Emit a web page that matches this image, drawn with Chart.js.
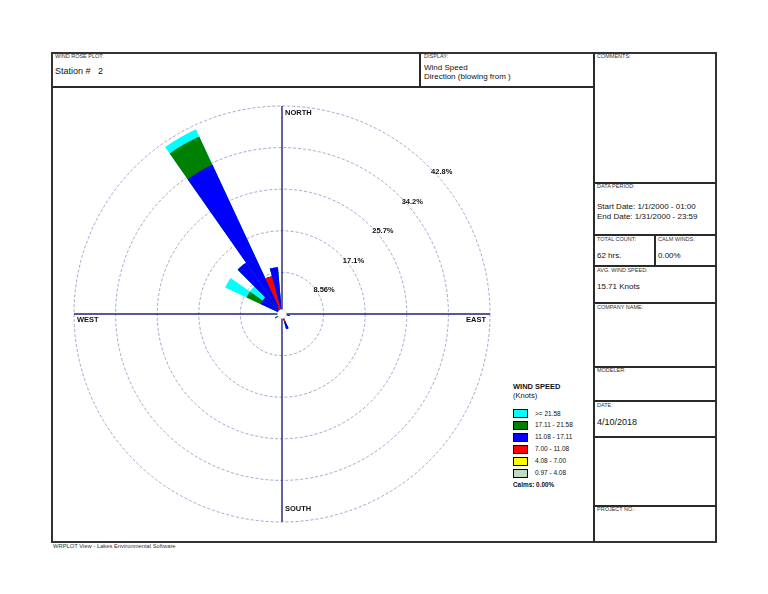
<!DOCTYPE html>
<html>
<head>
<meta charset="utf-8">
<script src="https://cdn.jsdelivr.net/npm/chart.js@4.4.0/dist/chart.umd.min.js"></script>
<style>
body { margin: 0; background: #fff; font-family: "Liberation Sans", Arial, sans-serif; color: #111; }
#page { position: relative; width: 768px; height: 594px; overflow: hidden; }
.ln { position: absolute; background: #2a2a2a; }
.t { position: absolute; white-space: pre; line-height: 1; transform: translateY(-50%); }
.cap { font-size: 5.5px; color: #333; }
.val { font-size: 8px; }
#rose { position: absolute; left: 70px; top: 102px; width: 424px; height: 424px; }
.sw { position: absolute; width: 13px; height: 7px; border: 1px solid #000; }
</style>
</head>
<body>
<div id="page">
  <div style="position:absolute;left:51px;top:52px;width:666px;height:491px;border:2px solid #333;box-sizing:border-box;"></div>
  <div class="ln" style="left:52px;top:86px;width:542px;height:2px;"></div>
  <div class="ln" style="left:419px;top:53px;width:2px;height:34px;"></div>
  <div class="ln" style="left:593px;top:53px;width:2px;height:489px;"></div>
  <div class="ln" style="left:594px;top:182px;width:122px;height:2px;"></div>
  <div class="ln" style="left:594px;top:234px;width:122px;height:2px;"></div>
  <div class="ln" style="left:654px;top:235px;width:2px;height:31px;"></div>
  <div class="ln" style="left:594px;top:265px;width:122px;height:2px;"></div>
  <div class="ln" style="left:594px;top:302px;width:122px;height:2px;"></div>
  <div class="ln" style="left:594px;top:366px;width:122px;height:2px;"></div>
  <div class="ln" style="left:594px;top:400px;width:122px;height:2px;"></div>
  <div class="ln" style="left:594px;top:436px;width:122px;height:2px;"></div>
  <div class="ln" style="left:594px;top:505px;width:122px;height:2px;"></div>

  <div class="t cap" style="left:55px;top:57px;">WIND ROSE PLOT:</div>
  <div class="t" style="left:55px;top:71px;font-size:9px;">Station #   2</div>
  <div class="t cap" style="left:424px;top:57px;">DISPLAY:</div>
  <div class="t val" style="left:424px;top:67.5px;">Wind Speed</div>
  <div class="t val" style="left:424px;top:77px;">Direction (blowing from )</div>
  <div class="t cap" style="left:597px;top:57px;">COMMENTS:</div>
  <div class="t cap" style="left:597px;top:187px;">DATA PERIOD:</div>
  <div class="t val" style="left:597px;top:206.5px;">Start Date: 1/1/2000 - 01:00</div>
  <div class="t val" style="left:597px;top:216.5px;">End Date: 1/31/2000 - 23:59</div>
  <div class="t cap" style="left:597px;top:240px;">TOTAL COUNT:</div>
  <div class="t val" style="left:597px;top:256px;">62 hrs.</div>
  <div class="t cap" style="left:658px;top:240px;">CALM WINDS:</div>
  <div class="t val" id="calmBox" style="left:658px;top:256px;"></div>
  <div class="t cap" style="left:597px;top:271px;">AVG. WIND SPEED:</div>
  <div class="t val" style="left:597px;top:287px;">15.71 Knots</div>
  <div class="t cap" style="left:597px;top:308px;">COMPANY NAME:</div>
  <div class="t cap" style="left:597px;top:371px;">MODELER:</div>
  <div class="t cap" style="left:597px;top:406px;">DATE:</div>
  <div class="t" style="left:597px;top:422px;font-size:9px;">4/10/2018</div>
  <div class="t cap" style="left:597px;top:510px;">PROJECT NO.:</div>
  <div class="t" style="left:53px;top:547px;font-size:5.8px;color:#333;">WRPLOT View - Lakes Environmental Software</div>

  <div class="t" style="left:513px;top:386.5px;font-size:7.5px;font-weight:bold;">WIND SPEED</div>
  <div class="t" style="left:513px;top:396px;font-size:7.5px;">(Knots)</div>
  <div id="legend"></div>

  <div id="rose"><canvas id="roseCanvas"></canvas></div>
</div>
<script>
// wind blowing-from directions, 10 degree sectors
var directions = [0, 10, 20, 30, 40, 50, 60, 70, 80, 90, 100, 110,
                  120, 130, 140, 150, 160, 170, 180, 190, 200, 210, 220, 230,
                  240, 250, 260, 270, 280, 290, 300, 310, 320, 330, 340, 350];

var speedBands = ['0.97 - 4.08', '4.08 - 7.00', '7.00 - 11.08', '11.08 - 17.11', '17.11 - 21.58', '>= 21.58'];
var bandColors = ['#c0dcc0', '#ffff00', '#ff0000', '#0000ff', '#008000', '#00ffff'];

// frequency (% of hours) per direction for each speed band
var freq0097 = [0,0,0,0,0,0,0,0,0,0,0,0, 0,0,0,0,0,0,0,0,0,0,0,0, 0,0,0,0,0,0,0,0,0,0,0,0];
var freq0408 = [0,0,0,0,0,0,0,0,0,0,0,0, 0,0,0,0,0,0,0,0,0,0,0,0, 0,0,0,0,0,0,0,0,0,0,0,0];
var freq0700 = [0,0,0,0,0,0,0,0,0,0,0,0, 0,0,0,0,1.61,0,0,0,0,0,0,0, 0,0,0,0,0,0,0,0,0,1.61,8.06,0];
var freq1108 = [0,0,0,0,0,0,0,0,0,0,1.61,0, 0,0,0,0,1.61,0,0,0,0,0,0,0, 0,0,0,0,0,0,4.84,4.84,12.90,32.26,0,9.68];
var freq1711 = [0,0,0,0,0,0,0,0,0,0,0,0, 0,0,0,0,0,0,0,0,0,0,0,0, 1.61,0,0,0,0,0,3.23,0,0,6.45,0,0];
var freq2158 = [0,0,0,0,0,0,0,0,0,0,0,0, 0,0,0,0,0,0,0,0,0,0,0,0, 0,0,0,0,0,0,4.84,3.23,0,1.61,0,0];

var ringStep = 8.56;
var ringMax = 42.8;
var calmPct = 0.00;

var bands = [freq0097, freq0408, freq0700, freq1108, freq1711, freq2158];

// stack the bands outwards: each dataset reaches the running total
var datasets = [];
var running = directions.map(function () { return 0; });
bands.forEach(function (b, k) {
    running = running.map(function (v, i) { return v + b[i]; });
    datasets.push({
        label: speedBands[k],
        data: running.slice(),
        backgroundColor: bandColors[k],
        borderWidth: 0
    });
});

// legend, strongest band on top
var legend = document.getElementById('legend');
for (var j = 0; j < speedBands.length; j++) {
    var k = speedBands.length - 1 - j;
    var boxTop = 409 + j * 11.9;
    var sw = document.createElement('div');
    sw.className = 'sw';
    sw.style.left = '513px';
    sw.style.top = boxTop + 'px';
    sw.style.background = bandColors[k];
    legend.appendChild(sw);
    var lb = document.createElement('div');
    lb.className = 't';
    lb.style.left = '535px';
    lb.style.top = (boxTop + 4.5) + 'px';
    lb.style.fontSize = '6.5px';
    lb.textContent = speedBands[k];
    legend.appendChild(lb);
}
var calm = document.createElement('div');
calm.className = 't';
calm.style.cssText = 'left:513px;top:485px;font-size:6.4px;font-weight:bold;';
calm.textContent = 'Calms: ' + calmPct.toFixed(2) + '%';
legend.appendChild(calm);
document.getElementById('calmBox').textContent = calmPct.toFixed(2) + '%';

var roseDecor = {
    id: 'roseDecor',
    beforeDatasetsDraw: function (chart) {
        var s = chart.scales.r, ctx = chart.ctx;
        var cx = s.xCenter, cy = s.yCenter, R = s.drawingArea;
        ctx.save();
        ctx.strokeStyle = '#22227a';
        ctx.lineWidth = 1.4;
        ctx.beginPath();
        ctx.moveTo(cx, cy - R); ctx.lineTo(cx, cy + R);
        ctx.moveTo(cx - R, cy); ctx.lineTo(cx + R, cy);
        ctx.stroke();
        ctx.restore();
    },
    afterDatasetsDraw: function (chart) {
        var s = chart.scales.r, ctx = chart.ctx;
        var cx = s.xCenter, cy = s.yCenter, R = s.drawingArea;
        ctx.save();
        // calm circle
        ctx.beginPath();
        ctx.arc(cx, cy, 4.5, 0, Math.PI * 2);
        ctx.fillStyle = '#fff';
        ctx.fill();
        ctx.strokeStyle = '#c8c8c8';
        ctx.lineWidth = 0.6;
        ctx.stroke();

        ctx.fillStyle = '#111';
        ctx.font = 'bold 7.5px "Liberation Sans", Arial, sans-serif';
        ctx.textBaseline = 'middle';
        ctx.textAlign = 'left';
        ctx.fillText('NORTH', cx + 3, cy - R + 7);
        ctx.fillText('SOUTH', cx + 3, cy + R - 13);
        ctx.fillText('WEST', cx - R + 3, cy + 6);
        ctx.textAlign = 'right';
        ctx.fillText('EAST', cx + R - 4, cy + 6);

        // ring labels along the north-east diagonal
        ctx.textAlign = 'left';
        var c45 = Math.SQRT1_2;
        s.ticks.forEach(function (t) {
            if (t.value <= 0) return;
            var d = s.getDistanceFromCenterForValue(t.value);
            ctx.fillText(t.value.toPrecision(3) + '%', cx + d * c45 + 2, cy - d * c45 + 5.5);
        });
        ctx.restore();
    }
};

new Chart(document.getElementById('roseCanvas').getContext('2d'), {
    type: 'polarArea',
    data: { labels: directions, datasets: datasets },
    options: {
        responsive: true,
        maintainAspectRatio: false,
        animation: false,
        events: [],
        layout: { padding: 4 },
        plugins: { legend: { display: false }, tooltip: { enabled: false } },
        scales: {
            r: {
                min: 0,
                max: ringMax,
                startAngle: -5,
                ticks: { display: false, stepSize: ringStep },
                pointLabels: { display: false },
                angleLines: { display: false },
                grid: { circular: true, color: '#9c9cca', lineWidth: 0.9 },
                border: { dash: [3, 2] }
            }
        }
    },
    plugins: [roseDecor]
});
</script>
</body>
</html>
